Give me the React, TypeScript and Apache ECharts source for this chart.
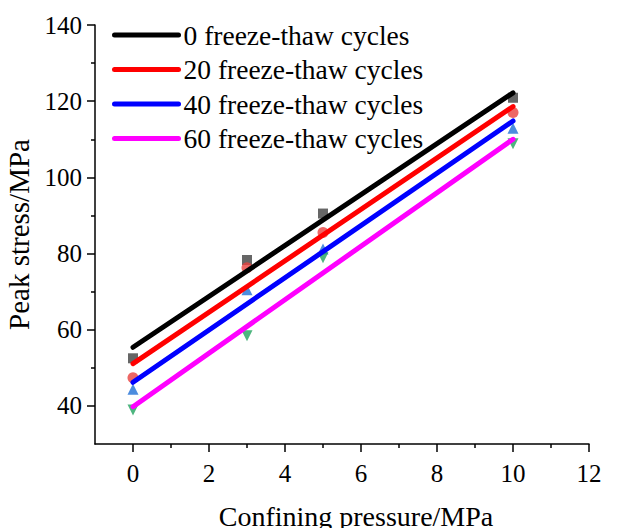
import React, { useEffect, useRef } from "react";
import * as echarts from "echarts";

const pressures = [0, 3, 5, 10];
const seriesNames = [
  "0 freeze-thaw cycles",
  "20 freeze-thaw cycles",
  "40 freeze-thaw cycles",
  "60 freeze-thaw cycles",
];
const stress0 = [52.5, 78.3, 90.5, 120.9];
const stress20 = [47.4, 76.3, 85.5, 117.0];
const stress40 = [44.4, 70.5, 81.2, 112.9];
const stress60 = [38.9, 58.4, 78.9, 108.8];
const fitX = [0, 10];
const fit0 = [55.4, 122.2];
const fit20 = [51.1, 118.6];
const fit40 = [46.2, 114.8];
const fit60 = [39.8, 110.0];
const xMajorTicks = [0, 2, 4, 6, 8, 10, 12];
const xMinorTicks = [1, 3, 5, 7, 9, 11];
const yMajorTicks = [40, 60, 80, 100, 120, 140];
const yMinorTicks = [50, 70, 90, 110, 130];

const lineColors = ["#000000", "#ff0000", "#0000ff", "#ff00ff"];
const markerColors = ["#404040", "#e8413f", "#1f6fd6", "#22a35f"];
const markerShapes = ["rect", "circle", "triangle", "triangle"];
const markerRotate = [0, 0, 0, 180];

const FONT = "Liberation Serif";

export default function App() {
  const ref = useRef<HTMLDivElement>(null);
  useEffect(() => {
    if (!ref.current) return;
    const chart = echarts.init(ref.current, undefined, { renderer: "svg" });
    const stresses = [stress0, stress20, stress40, stress60];
    const fits = [fit0, fit20, fit40, fit60];
    const scatterSeries = stresses.map((vals, i) => ({
      type: "scatter",
      name: seriesNames[i] + " data",
      data: pressures.map((p, j) => [p, vals[j]]),
      symbol: markerShapes[i],
      symbolRotate: markerRotate[i],
      symbolSize: markerShapes[i] === "rect" ? 10 : 11,
      itemStyle: { color: markerColors[i] },
      z: 2,
    }));
    const lineSeries = fits.map((vals, i) => ({
      type: "line",
      name: seriesNames[i],
      data: fitX.map((x, j) => [x, vals[j]]),
      symbol: "none",
      showSymbol: false,
      lineStyle: { color: lineColors[i], width: 5, cap: "round" },
      itemStyle: { color: lineColors[i] },
      z: 3,
    }));
    const axisLineStyle = { color: "#000", width: 1.5 };
    chart.setOption({
      animation: false,
      backgroundColor: "#fff",
      textStyle: { fontFamily: FONT },
      grid: {
        left: 95,
        right: 41,
        top: 25,
        bottom: 84,
        containLabel: false,
        outerBoundsMode: "none",
      },
      legend: {
        data: seriesNames,
        orient: "vertical",
        left: 112,
        top: 21,
        itemWidth: 64,
        itemHeight: 26,
        itemGap: 6.5,
        padding: 0,
        itemStyle: { opacity: 0 },
        lineStyle: { width: 5, cap: "round" },
        textStyle: {
          fontFamily: FONT,
          fontSize: 27.5,
          color: "#000",
          lineHeight: 26,
          padding: [0, 0, 0, 0],
        },
      },
      xAxis: [
        {
          type: "value",
          min: -1,
          max: 12,
          interval: 1,
          position: "bottom",
          name: "Confining pressure/MPa",
          nameLocation: "middle",
          nameGap: 58,
          nameTextStyle: {
            fontFamily: FONT,
            fontSize: 28,
            color: "#000",
            padding: [0, 0, 0, 28],
          },
          axisLine: { show: true, onZero: false, lineStyle: axisLineStyle },
          axisTick: { show: true, customValues: xMajorTicks, length: 8, lineStyle: axisLineStyle },
          axisLabel: {
            customValues: xMajorTicks,
            fontFamily: FONT,
            fontSize: 25,
            color: "#000",
            margin: 17,
          },
          splitLine: { show: false },
        },
        {
          type: "value",
          min: -1,
          max: 12,
          interval: 1,
          position: "bottom",
          axisLine: { show: false, onZero: false },
          axisTick: { show: true, customValues: xMinorTicks, length: 4, lineStyle: axisLineStyle },
          axisLabel: { show: false },
          splitLine: { show: false },
        },
      ],
      yAxis: [
        {
          type: "value",
          min: 30,
          max: 140,
          interval: 10,
          position: "left",
          name: "Peak stress/MPa",
          nameLocation: "middle",
          nameGap: 57,
          nameTextStyle: { fontFamily: FONT, fontSize: 29, color: "#000" },
          axisLine: { show: true, onZero: false, lineStyle: axisLineStyle },
          axisTick: { show: true, customValues: yMajorTicks, length: 8, lineStyle: axisLineStyle },
          axisLabel: {
            customValues: yMajorTicks,
            fontFamily: FONT,
            fontSize: 25,
            color: "#000",
            margin: 13,
          },
          splitLine: { show: false },
        },
        {
          type: "value",
          min: 30,
          max: 140,
          interval: 10,
          position: "left",
          axisLine: { show: false, onZero: false },
          axisTick: { show: true, customValues: yMinorTicks, length: 4, lineStyle: axisLineStyle },
          axisLabel: { show: false },
          splitLine: { show: false },
        },
      ],
      series: [...scatterSeries, ...lineSeries],
    });
    return () => chart.dispose();
  }, []);
  return (
    <div
      ref={ref}
      style={{ position: "fixed", left: 0, top: 0, width: 630, height: 528 }}
    />
  );
}
